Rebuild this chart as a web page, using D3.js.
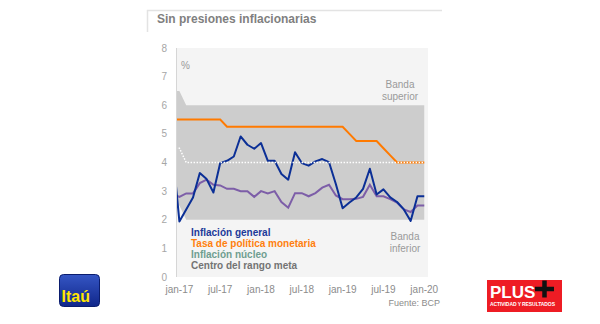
<!DOCTYPE html>
<html>
<head>
<meta charset="utf-8">
<script src="https://cdn.jsdelivr.net/npm/d3@7"></script>
<style>
  body { margin: 0; background: #fff; }
  svg { display: block; font-family: "Liberation Sans", Arial, sans-serif; }
</style>
</head>
<body>
<svg width="600" height="324"></svg>
<script>
// month index: -1 = dic-16, 0 = jan-17 ... 36 = jan-20
var monthIdx = d3.range(-1, 37);

var inflacionGeneral = [4.4, 1.94, 2.36, 2.78, 3.63, 3.42, 2.95, 3.98, 4.06, 4.21, 4.91, 4.62, 4.48,
  4.68, 4.06, 4.06, 3.6, 3.4, 4.36, 3.98, 3.89, 4.04, 4.12, 4.01, 3.25,
  2.4, 2.6, 2.78, 3.08, 3.78, 2.88, 3.06, 2.78, 2.62, 2.36, 1.96, 2.82, 2.82];

var inflacionNucleo = [2.9, 2.8, 2.92, 2.92, 3.28, 3.4, 3.22, 3.2, 3.08, 3.08, 3.0, 3.0, 2.8,
  3.0, 2.92, 3.0, 2.62, 2.42, 2.93, 2.93, 2.82, 2.93, 3.12, 3.22, 2.85,
  2.72, 2.72, 2.73, 2.8, 3.22, 2.82, 2.82, 2.72, 2.6, 2.36, 2.27, 2.5, 2.5];

var tasaPolitica = [5.5, 5.5, 5.5, 5.5, 5.5, 5.5, 5.5, 5.5, 5.25, 5.25, 5.25, 5.25, 5.25,
  5.25, 5.25, 5.25, 5.25, 5.25, 5.25, 5.25, 5.25, 5.25, 5.25, 5.25, 5.25,
  5.25, 5.0, 4.75, 4.75, 4.75, 4.75, 4.5, 4.25, 4.0, 4.0, 4.0, 4.0, 4.0];

var bandaSuperior = [6.5, 6.5, 6, 6, 6, 6, 6, 6, 6, 6, 6, 6, 6, 6, 6, 6, 6, 6, 6,
  6, 6, 6, 6, 6, 6, 6, 6, 6, 6, 6, 6, 6, 6, 6, 6, 6, 6, 6];
var bandaInferior = [2.5, 2.5, 2, 2, 2, 2, 2, 2, 2, 2, 2, 2, 2, 2, 2, 2, 2, 2, 2,
  2, 2, 2, 2, 2, 2, 2, 2, 2, 2, 2, 2, 2, 2, 2, 2, 2, 2, 2];
var centroRango = [4.5, 4.5, 4, 4, 4, 4, 4, 4, 4, 4, 4, 4, 4, 4, 4, 4, 4, 4, 4,
  4, 4, 4, 4, 4, 4, 4, 4, 4, 4, 4, 4, 4, 4, 4, 4, 4, 4, 4];

var xTickIdx = [0, 6, 12, 18, 24, 30, 36];
var xTickLabels = ["jan-17", "jul-17", "jan-18", "jul-18", "jan-19", "jul-19", "jan-20"];
var yTicks = [0, 1, 2, 3, 4, 5, 6, 7, 8];

var legendItems = [
  {name: "Inflación general", color: "#1c3a99"},
  {name: "Tasa de política monetaria", color: "#ff7f0e"},
  {name: "Inflación núcleo", color: "#6f9e90"},
  {name: "Centro del rango meta", color: "#737373"}
];

var svg = d3.select("svg");
var x = d3.scaleLinear().domain([-0.5, 36.55]).range([176, 428]);
var y = d3.scaleLinear().domain([0, 8]).range([277, 48]);

// title frame
svg.append("path").attr("d", "M147.5,32V10.5H442").attr("fill", "none").attr("stroke", "#e3e3e3").attr("stroke-width", 1.5);
svg.append("text").attr("x", 157).attr("y", 22.5).attr("font-size", "12px").attr("font-weight", "bold")
  .attr("fill", "#7f7f7f").text("Sin presiones inflacionarias");

// plot background
svg.append("rect").attr("x", x.range()[0]).attr("y", y(8)).attr("width", x.range()[1] - x.range()[0])
  .attr("height", y(0) - y(8)).attr("fill", "#f4f4f4");

svg.append("defs").append("clipPath").attr("id", "clip").append("rect")
  .attr("x", x.range()[0]).attr("y", y(8)).attr("width", x.range()[1] - x.range()[0]).attr("height", y(0) - y(8));

var g = svg.append("g").attr("clip-path", "url(#clip)");

var band = d3.area()
  .x(function(d, i) { return x(monthIdx[i]); })
  .y0(function(d, i) { return y(bandaInferior[i]); })
  .y1(function(d, i) { return y(bandaSuperior[i]); });
g.append("path").datum(monthIdx).attr("d", band).attr("fill", "#cdcdcd");

function line(values) {
  return d3.line().x(function(d, i) { return x(monthIdx[i]); }).y(function(d) { return y(d); })(values);
}

g.append("path").attr("d", line(tasaPolitica)).attr("fill", "none").attr("stroke", "#ff7a00").attr("stroke-width", 2);
g.append("path").attr("d", line(inflacionNucleo)).attr("fill", "none").attr("stroke", "#7d5ea8").attr("stroke-width", 2);
g.append("path").attr("d", line(inflacionGeneral)).attr("fill", "none").attr("stroke", "#0b2f96").attr("stroke-width", 2)
  .attr("stroke-linejoin", "round");
g.append("path").attr("d", line(centroRango)).attr("fill", "none").attr("stroke", "#ffffff").attr("stroke-width", 1.5)
  .attr("stroke-dasharray", "1.5,1.5");

// left axis line
svg.append("line").attr("x1", 176.5).attr("x2", 176.5).attr("y1", y(8)).attr("y2", y(0))
  .attr("stroke", "#d6d6d6").attr("stroke-width", 1);

// y ticks
svg.append("g").selectAll("text").data(yTicks).enter().append("text")
  .attr("x", 167).attr("y", function(d) { return y(d) + 3.5; })
  .attr("text-anchor", "end").attr("font-size", "10px").attr("fill", "#a6a6a6")
  .text(function(d) { return d; });

// x ticks
svg.append("g").selectAll("text").data(xTickIdx).enter().append("text")
  .attr("x", function(d) { return x(d); }).attr("y", 293)
  .attr("text-anchor", "middle").attr("font-size", "10px").attr("fill", "#8c8c8c")
  .text(function(d, i) { return xTickLabels[i]; });

svg.append("text").attr("x", 181).attr("y", 69).attr("font-size", "10px").attr("fill", "#999").text("%");

var bs = svg.append("text").attr("text-anchor", "middle").attr("font-size", "10px").attr("fill", "#9a9a9a");
bs.append("tspan").attr("x", 400).attr("y", 88).text("Banda");
bs.append("tspan").attr("x", 400).attr("y", 100).text("superior");
var bi = svg.append("text").attr("text-anchor", "middle").attr("font-size", "10px").attr("fill", "#9a9a9a");
bi.append("tspan").attr("x", 405).attr("y", 240).text("Banda");
bi.append("tspan").attr("x", 405).attr("y", 252).text("inferior");

// legend
svg.append("g").selectAll("text").data(legendItems).enter().append("text")
  .attr("x", 191).attr("y", function(d, i) { return 235.5 + i * 11; })
  .attr("font-size", "10px").attr("font-weight", "bold")
  .attr("fill", function(d) { return d.color; })
  .text(function(d) { return d.name; });

svg.append("text").attr("x", 440).attr("y", 306).attr("text-anchor", "end").attr("font-size", "9px")
  .attr("fill", "#8c8c8c").text("Fuente: BCP");

// Itaú logo
var defs = svg.select("defs");
var grad = defs.append("linearGradient").attr("id", "itau").attr("x1", 0).attr("y1", 0).attr("x2", 0).attr("y2", 1);
grad.append("stop").attr("offset", "0%").attr("stop-color", "#3556c4");
grad.append("stop").attr("offset", "100%").attr("stop-color", "#10268a");
svg.append("rect").attr("x", 59.5).attr("y", 274.5).attr("width", 40).attr("height", 32).attr("rx", 4)
  .attr("fill", "url(#itau)").attr("stroke", "#0b1d6e");
svg.append("text").attr("x", 61.5).attr("y", 302).attr("font-size", "16px").attr("font-weight", "bold")
  .attr("fill", "#ffe600").text("Itaú");

// PLUS logo
svg.append("rect").attr("x", 487).attr("y", 280).attr("width", 75).attr("height", 32).attr("fill", "#ee1c24");
svg.append("text").attr("x", 490).attr("y", 298).attr("font-size", "17px").attr("font-weight", "bold")
  .attr("fill", "#fff").text("PLUS");
svg.append("path").attr("d", "M535,289h19M544.5,280.5v17").attr("stroke", "#111").attr("stroke-width", 4.5);
svg.append("text").attr("x", 490).attr("y", 306).attr("font-size", "5px").attr("font-weight", "bold")
  .attr("fill", "#fff").attr("textLength", 65).text("ACTIVIDAD Y RESULTADOS");
</script>
</body>
</html>
